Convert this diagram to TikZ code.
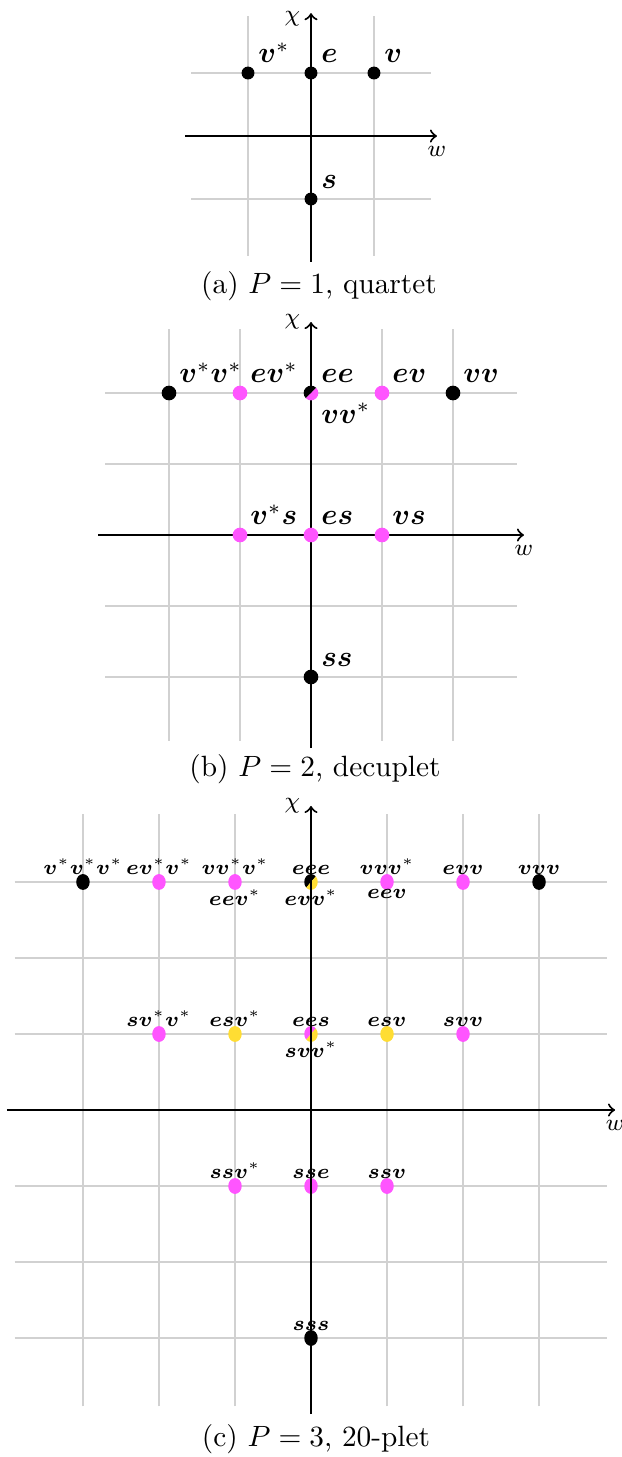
\documentclass[tikz,border=0pt]{standalone}
\usepackage{amsmath,bm}
\definecolor{pinkdot}{RGB}{255,85,255}
\definecolor{yellowdot}{RGB}{255,221,51}
\tikzset{
  gridline/.style={black!18,line width=0.5pt},
  axis/.style={->,line width=0.7pt},
  axis lbl/.style={font=\footnotesize},
  small lbl/.style={font=\scriptsize,inner sep=2.4pt},
}
% dot cut along the diagonal: position, x radius, y radius, upper-left colour, lower-right colour
\newcommand{\splitdot}[5]{%
  \fill[#4] #1 ++(45:#2 and #3) arc[start angle=45,end angle=225,x radius=#2,y radius=#3] -- cycle;
  \fill[#5] #1 ++(225:#2 and #3) arc[start angle=225,end angle=405,x radius=#2,y radius=#3] -- cycle;
}
\begin{document}
\begin{tikzpicture}[x=0.341pt,y=0.341pt]
\useasboundingbox (0,0) rectangle (622,-1457);

% (a) quartet
\begin{scope}[shift={(311,-136)},x=21.48pt,y=21.48pt]
\foreach \i in {-1,0,1} {
  \draw[gridline] (\i,-1.9) -- (\i,1.9);
  \draw[gridline] (-1.9,\i) -- (1.9,\i);
}
\draw[axis] (-2,0) -- (2,0) node[below,axis lbl] (a-w) {$w$};
\draw[axis] (0,-2) -- (0,1.95) node[left,axis lbl,yshift=-2pt] (a-chi) {$\chi$};
\fill (-1,1) circle[radius=2.2pt];
\fill (0,1) circle[radius=2.2pt];
\fill (1,1) circle[radius=2.2pt];
\fill (0,-1) circle[radius=2.2pt];
\node[above right] (a-vst) at (-1,1) {$\bm{v}^*$};
\node[above right] (a-e) at (0,1) {$\bm{e}$};
\node[above right] (a-v) at (1,1) {$\bm{v}$};
\node[above right] (a-s) at (0,-1) {$\bm{s}$};
\end{scope}
\node (cap-a) at (319,-286) {(a) $P=1$, quartet};

% (b) decuplet
\begin{scope}[shift={(311,-535)},x=24.21pt,y=24.21pt]
\foreach \i in {-2,...,2} {
  \draw[gridline] (\i,-2.9) -- (\i,2.9);
  \draw[gridline] (-2.9,\i) -- (2.9,\i);
}
\draw[axis] (-3,0) -- (3,0) node[below,axis lbl] (b-w) {$w$};
\draw[axis] (0,-3) -- (0,3) node[left,axis lbl] (b-chi) {$\chi$};
\fill (-2,2) circle[radius=2.5pt];
\fill[pinkdot] (-1,2) circle[radius=2.5pt];
\splitdot{(0,2)}{2.5pt}{2.5pt}{black}{pinkdot}
\fill[pinkdot] (1,2) circle[radius=2.5pt];
\fill (2,2) circle[radius=2.5pt];
\fill[pinkdot] (-1,0) circle[radius=2.5pt];
\fill[pinkdot] (0,0) circle[radius=2.5pt];
\fill[pinkdot] (1,0) circle[radius=2.5pt];
\fill (0,-2) circle[radius=2.5pt];
\node[above right] (b-vsvs) at (-2,2) {$\bm{v}^*\bm{v}^*$};
\node[above right] (b-evs) at (-1,2) {$\bm{e}\bm{v}^*$};
\node[above right] (b-ee) at (0,2) {$\bm{e}\bm{e}$};
\node[below right] (b-vvs) at (0,2) {$\bm{v}\bm{v}^*$};
\node[above right] (b-ev) at (1,2) {$\bm{e}\bm{v}$};
\node[above right] (b-vv) at (2,2) {$\bm{v}\bm{v}$};
\node[above right] (b-vss) at (-1,0) {$\bm{v}^*\bm{s}$};
\node[above right] (b-es) at (0,0) {$\bm{e}\bm{s}$};
\node[above right] (b-vs) at (1,0) {$\bm{v}\bm{s}$};
\node[above right] (b-ss) at (0,-2) {$\bm{s}\bm{s}$};
\end{scope}
\node (cap-b) at (315,-769) {(b) $P=2$, decuplet};

% (c) 20-plet
\begin{scope}[shift={(311,-1110)},x=25.92pt,y=25.92pt]
\foreach \i in {-3,...,3} {
  \draw[gridline] (\i,-3.9) -- (\i,3.9);
  \draw[gridline] (-3.9,\i) -- (3.9,\i);
}
\fill (-3,3) ellipse[x radius=2.3pt,y radius=2.7pt];
\fill[pinkdot] (-2,3) ellipse[x radius=2.3pt,y radius=2.7pt];
\fill[pinkdot] (-1,3) ellipse[x radius=2.3pt,y radius=2.7pt];
\splitdot{(0,3)}{2.3pt}{2.7pt}{black}{yellowdot}
\fill[pinkdot] (1,3) ellipse[x radius=2.3pt,y radius=2.7pt];
\fill[pinkdot] (2,3) ellipse[x radius=2.3pt,y radius=2.7pt];
\fill (3,3) ellipse[x radius=2.3pt,y radius=2.7pt];
\fill[pinkdot] (-2,1) ellipse[x radius=2.3pt,y radius=2.7pt];
\fill[yellowdot] (-1,1) ellipse[x radius=2.3pt,y radius=2.7pt];
\splitdot{(0,1)}{2.3pt}{2.7pt}{pinkdot}{yellowdot}
\fill[yellowdot] (1,1) ellipse[x radius=2.3pt,y radius=2.7pt];
\fill[pinkdot] (2,1) ellipse[x radius=2.3pt,y radius=2.7pt];
\fill[pinkdot] (-1,-1) ellipse[x radius=2.3pt,y radius=2.7pt];
\fill[pinkdot] (0,-1) ellipse[x radius=2.3pt,y radius=2.7pt];
\fill[pinkdot] (1,-1) ellipse[x radius=2.3pt,y radius=2.7pt];
\fill (0,-3) ellipse[x radius=2.3pt,y radius=2.7pt];
\draw[axis] (-4,0) -- (4,0) node[below,axis lbl] (c-w) {$w$};
\draw[axis] (0,-4) -- (0,4) node[left,axis lbl] (c-chi) {$\chi$};
\node[small lbl,above] (c-vsvsvs) at (-3,3) {$\bm{v}^*\bm{v}^*\bm{v}^*$};
\node[small lbl,above] (c-evsvs) at (-2,3) {$\bm{e}\bm{v}^*\bm{v}^*$};
\node[small lbl,above] (c-vvsvs) at (-1,3) {$\bm{v}\bm{v}^*\bm{v}^*$};
\node[small lbl,below] (c-eevs) at (-1,3) {$\bm{e}\bm{e}\bm{v}^*$};
\node[small lbl,above] (c-eee) at (0,3) {$\bm{e}\bm{e}\bm{e}$};
\node[small lbl,below] (c-evvs) at (0,3) {$\bm{e}\bm{v}\bm{v}^*$};
\node[small lbl,above] (c-vvvs) at (1,3) {$\bm{v}\bm{v}\bm{v}^*$};
\node[small lbl,below] (c-eev) at (1,3) {$\bm{e}\bm{e}\bm{v}$};
\node[small lbl,above] (c-evv) at (2,3) {$\bm{e}\bm{v}\bm{v}$};
\node[small lbl,above] (c-vvv) at (3,3) {$\bm{v}\bm{v}\bm{v}$};
\node[small lbl,above] (c-svsvs) at (-2,1) {$\bm{s}\bm{v}^*\bm{v}^*$};
\node[small lbl,above] (c-esvs) at (-1,1) {$\bm{e}\bm{s}\bm{v}^*$};
\node[small lbl,above] (c-ees) at (0,1) {$\bm{e}\bm{e}\bm{s}$};
\node[small lbl,below] (c-svvs) at (0,1) {$\bm{s}\bm{v}\bm{v}^*$};
\node[small lbl,above] (c-esv) at (1,1) {$\bm{e}\bm{s}\bm{v}$};
\node[small lbl,above] (c-svv) at (2,1) {$\bm{s}\bm{v}\bm{v}$};
\node[small lbl,above] (c-ssvs) at (-1,-1) {$\bm{s}\bm{s}\bm{v}^*$};
\node[small lbl,above] (c-sse) at (0,-1) {$\bm{s}\bm{s}\bm{e}$};
\node[small lbl,above] (c-ssv) at (1,-1) {$\bm{s}\bm{s}\bm{v}$};
\node[small lbl,above] (c-sss) at (0,-3) {$\bm{s}\bm{s}\bm{s}$};
\end{scope}
\node (cap-c) at (316,-1439) {(c) $P=3$, 20-plet};
\end{tikzpicture}
\end{document}
